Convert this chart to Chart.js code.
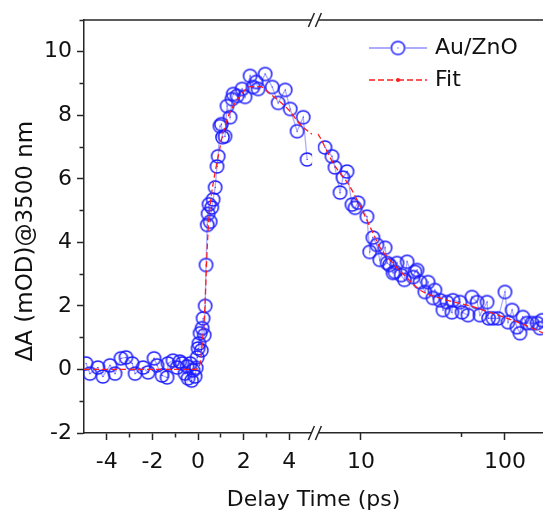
<!DOCTYPE html>
<html>
<head>
<meta charset="utf-8">
<title>Au/ZnO transient absorption at 3500 nm</title>
<script src="https://cdn.jsdelivr.net/npm/chart.js@4.4.1/dist/chart.umd.min.js"></script>
<style>
    html, body { margin: 0; padding: 0; background: #fff; overflow: hidden; }
    #wrap { width: 543px; height: 516px; }
</style>
</head>
<body>
<div id="wrap"><canvas id="chart" width="543" height="516"></canvas></div>
<script>
// ---- data ----
// measured points, linear part of the delay axis (ps)
const earlyDelay = [
    -4.91, -4.74, -4.39, -4.17, -3.86, -3.64, -3.38, -3.16, -2.89, -2.76,
    -2.41, -2.19, -1.93, -1.80, -1.58, -1.36, -1.32, -1.10, -0.92, -0.80,
    -0.70, -0.57, -0.48, -0.44, -0.35, -0.28, -0.22, -0.13, -0.08, -0.04,
     0.00,  0.04,  0.09,  0.14,  0.18,  0.22,  0.27,  0.31,  0.35,  0.40,
     0.44,  0.48,  0.53,  0.60,  0.66,  0.75,  0.83,  0.88,  0.96,  1.02,
     1.07,  1.18,  1.27,  1.40,  1.49,  1.54,  1.71,  1.93,  2.06,  2.28,
     2.41,  2.55,  2.63,  2.94,  3.25,  3.51,  3.82,  4.04,  4.34,  4.61,
     4.78
];
const earlyDA = [
     0.19, -0.13,  0.06, -0.22,  0.13, -0.13,  0.35,  0.38,  0.19, -0.13,
     0.06, -0.09,  0.35,  0.13, -0.19, -0.25,  0.19,  0.28,  0.06,  0.25,
     0.19, -0.13,  0.10, -0.28,  0.19, -0.35, -0.03, -0.22,  0.05,  0.38,
     0.66,  0.82,  1.14,  0.60,  1.30,  1.61,  1.08,  2.00,  3.29,  4.55,
     4.90,  5.20,  4.65,  5.10,  5.35,  5.73,  6.39,  6.71,  7.66,  7.72,
     7.31,  7.34,  8.29,  7.94,  8.51,  8.67,  8.61,  8.83,  8.58,  9.24,
     8.89,  9.05,  8.83,  9.30,  8.89,  8.39,  8.80,  8.20,  7.50,  7.94,
     6.61
];

// measured points, log part of the delay axis (ps)
const lateDelay = [
    5.62, 6.29, 6.60, 7.15, 7.50, 8.00, 8.66, 9.09, 9.53, 11.0,
    11.5, 12.1, 12.9, 13.5, 14.7, 15.2, 15.8, 16.7, 17.2, 17.8,
    19.0, 20.0, 20.9, 23.0, 23.7, 24.5, 25.7, 27.8, 29.2, 31.6,
    32.6, 35.4, 37.1, 39.5, 42.8, 43.5, 48.7, 50.3, 55.3, 59.0,
    64.0, 67.0, 75.0, 77.0, 82.6, 89.4, 100, 105, 112, 121,
    127, 133, 142, 154, 167, 175, 181
];
const lateDA = [
    6.99, 6.71, 6.36, 5.57, 6.04, 6.23, 5.19, 5.09, 5.25, 4.81,
    3.70, 4.15, 3.92, 3.45, 3.83, 3.35, 3.29, 3.04, 3.07, 3.35,
    2.97, 2.82, 3.39, 2.91, 3.07, 3.13, 2.75, 2.44, 2.75, 2.25,
    2.50, 2.18, 1.87, 2.12, 1.80, 2.18, 2.12, 1.80, 1.71, 2.28,
    2.12, 1.71, 2.12, 1.61, 1.61, 1.61, 2.44, 1.49, 1.87, 1.33,
    1.14, 1.65, 1.46, 1.46, 1.46, 1.30, 1.55
];

// fit curve
const fitEarlyDelay = [-5, -0.2, 0, 0.1, 0.2, 0.3, 0.37, 0.45, 0.55, 0.66, 0.88, 1.1, 1.4, 1.84, 2.28, 2.72, 3.16, 3.6, 4.0, 4.47, 5.0];
const fitEarlyDA    = [0, 0, 0.03, 0.25, 0.95, 1.95, 3.3, 4.5, 5.3, 5.85, 6.7, 7.45, 8.1, 8.6, 8.9, 8.9, 8.67, 8.42, 8.15, 7.72, 7.4];
const fitLateDelay  = [5.0, 5.2, 6.4, 8.4, 9.9, 12.1, 13.5, 15.2, 17.8, 20.9, 25.7, 38, 57, 88, 127, 184];
const fitLateDA     = [7.42, 7.3, 6.5, 5.75, 5.13, 4.3, 3.85, 3.55, 3.2, 2.88, 2.5, 2.2, 2.0, 1.72, 1.46, 1.15];

// ticks
const xLinTicks  = [-4, -3, -2, -1, 0, 1, 2, 3, 4];
const xLinLabels = [-4, -2, 0, 2, 4];
const xLogTicks  = [10, 50, 100];
const xLogLabels = [10, 100];
const yTicks     = [-2, -1, 0, 1, 2, 3, 4, 5, 6, 7, 8, 9, 10, 11];
const yLabels    = [-2, 0, 2, 4, 6, 8, 10];

// ---- axis ranges and styling ----
const BREAK_AT = 5;
const LIN_MIN = -5, LIN_MAX = 15.12;
const LOG_MIN = 0.1193, LOG_MAX = 183.6;
const Y_MIN = -2, Y_MAX = 11;

const AXIS_COLOR = '#262626';
const TEXT_COLOR = '#111';
const DOT_BLUE = '#1c1cff';
const LINK_BLUE = 'rgba(90, 90, 255, 0.5)';
const FIT_RED = '#ff1c1c';
const TICK_FONT = { family: 'DejaVu Sans', size: 22 };
const TITLE_FONT = { family: 'DejaVu Sans', size: 22 };
const YTITLE_FONT = { family: 'DejaVu Sans', size: 23 };
const MINOR_DASH_OUT = [4, 50];          // ticks drawn from the border outward
const MINOR_DASH_IN = [0, 2.5, 4, 50];   // ticks drawn towards the border

Chart.defaults.font.family = 'DejaVu Sans';

const toPoints = (xs, ys) => xs.map((x, i) => ({ x: x, y: ys[i] }));

// open circle with a dot in the middle
function makeMarker() {
    const c = document.createElement('canvas');
    c.width = 17;
    c.height = 17;
    const g = c.getContext('2d');
    g.strokeStyle = DOT_BLUE;
    g.lineWidth = 1.5;
    g.beginPath();
    g.arc(8.5, 8.5, 6.6, 0, Math.PI * 2);
    g.stroke();
    g.fillStyle = DOT_BLUE;
    g.fillRect(8, 8, 1, 1);
    return c;
}
const marker = makeMarker();

// both x axes share the bottom edge; clip each half to its side of the break,
// draw the break marks and the top frame line
const axisBreak = {
    id: 'axisBreak',
    breakPixels(chart) {
        return {
            lin: chart.scales.x.getPixelForValue(BREAK_AT),
            log: chart.scales.x2.getPixelForValue(BREAK_AT)
        };
    },
    afterLayout(chart) {
        // the linear axis was laid out with no height so it sits on the same
        // line as the log axis; give its labels room to draw
        const { x, x2 } = chart.scales;
        x.bottom = x2.bottom;
        x.height = x.bottom - x.top;
    },
    beforeDatasetDraw(chart, args) {
        const ds = chart.data.datasets[args.index];
        const { ctx, chartArea } = chart;
        const cut = this.breakPixels(chart);
        ctx.save();
        ctx.beginPath();
        if (ds.xAxisID === 'x') {
            ctx.rect(chartArea.left, 0, cut.lin - chartArea.left, chart.height);
        } else {
            ctx.rect(cut.log, 0, chart.width - cut.log, chart.height);
        }
        ctx.clip();
    },
    afterDatasetDraw(chart) {
        chart.ctx.restore();
    },
    afterDraw(chart) {
        const { ctx, chartArea } = chart;
        const cut = this.breakPixels(chart);
        const cx = (cut.lin + cut.log) / 2;
        const half = 3.5;

        ctx.save();
        ctx.strokeStyle = AXIS_COLOR;
        ctx.lineWidth = 1.5;

        // top frame line
        ctx.beginPath();
        ctx.moveTo(chartArea.left, chartArea.top);
        ctx.lineTo(cx - half, chartArea.top);
        ctx.moveTo(cx + half, chartArea.top);
        ctx.lineTo(chartArea.right, chartArea.top);
        ctx.stroke();

        // gap in the bottom axis
        ctx.fillStyle = '#fff';
        ctx.fillRect(cx - half, chartArea.bottom - 2, half * 2, 4);

        // the // marks
        ctx.beginPath();
        [chartArea.top, chartArea.bottom].forEach(y => {
            [-half, half].forEach(d => {
                ctx.moveTo(cx + d - 3, y + 7);
                ctx.lineTo(cx + d + 3, y - 7);
            });
        });
        ctx.stroke();
        ctx.restore();
    }
};

// legend in the upper right corner: line sample with marker, then the label
const cornerLegend = {
    id: 'cornerLegend',
    afterDraw(chart, args, opts) {
        const { ctx } = chart;
        const items = chart.data.datasets.filter(ds => ds.inLegend);
        ctx.save();
        items.forEach((ds, i) => {
            const y = opts.top + i * opts.rowGap;
            const x0 = opts.left;
            const x1 = opts.left + opts.sampleWidth;
            const mid = (x0 + x1) / 2;
            const gap = ds.pointRadius > 0 ? 7.5 : 0;

            ctx.strokeStyle = ds.borderColor;
            ctx.lineWidth = ds.legendLineWidth || ds.borderWidth;
            ctx.setLineDash(ds.borderDash || []);
            ctx.beginPath();
            ctx.moveTo(x0, y);
            ctx.lineTo(mid - gap, y);
            ctx.moveTo(mid + gap, y);
            ctx.lineTo(x1, y);
            ctx.stroke();
            ctx.setLineDash([]);

            if (ds.pointRadius > 0) {
                ctx.drawImage(marker, mid - marker.width / 2, y - marker.height / 2);
            } else {
                ctx.fillStyle = ds.borderColor;
                ctx.beginPath();
                ctx.arc(mid, y, 2, 0, Math.PI * 2);
                ctx.fill();
            }

            ctx.fillStyle = TEXT_COLOR;
            ctx.font = `${opts.fontSize}px "DejaVu Sans"`;
            ctx.textBaseline = 'middle';
            ctx.textAlign = 'left';
            ctx.fillText(ds.label, x1 + opts.textGap, y);
        });
        ctx.restore();
    }
};

const tickGrid = (isMinor, dash) => ({
    drawOnChartArea: false,
    drawTicks: true,
    tickLength: 7,
    tickWidth: 1.5,
    tickColor: AXIS_COLOR,
    tickBorderDash: c => (c.tick && isMinor(c.tick.value)) ? dash : []
});

// x axes: no side padding for overhanging labels, the plot runs to the edge
const fitXAxis = height => s => {
    s.height = height;
    s.paddingLeft = 0;
    s.paddingRight = 0;
};

const dataStyle = {
    showLine: true,
    borderColor: LINK_BLUE,
    borderWidth: 1.3,
    legendLineWidth: 1.8,
    pointStyle: marker,
    pointRadius: 7,
    order: 1
};
const fitStyle = {
    showLine: true,
    borderColor: FIT_RED,
    borderWidth: 1.3,
    borderDash: [6, 3],
    pointRadius: 0,
    cubicInterpolationMode: 'monotone',
    order: 0
};

new Chart(document.getElementById('chart'), {
    type: 'scatter',
    data: {
        datasets: [
            { ...dataStyle, label: 'Au/ZnO', xAxisID: 'x', data: toPoints(earlyDelay, earlyDA), inLegend: true },
            { ...dataStyle, label: 'Au/ZnO', xAxisID: 'x2', data: toPoints(lateDelay, lateDA) },
            { ...fitStyle, label: 'Fit', xAxisID: 'x', data: toPoints(fitEarlyDelay, fitEarlyDA), inLegend: true },
            { ...fitStyle, label: 'Fit', xAxisID: 'x2', data: toPoints(fitLateDelay, fitLateDA) }
        ]
    },
    options: {
        responsive: false,
        animation: false,
        events: [],
        layout: {
            autoPadding: false,
            padding: { top: 20, left: 0, right: 0, bottom: 0 }
        },
        plugins: {
            legend: { display: false },
            tooltip: { enabled: false },
            cornerLegend: { left: 369, top: 48, rowGap: 32, sampleWidth: 58, textGap: 8, fontSize: 22 }
        },
        scales: {
            x: {
                type: 'linear',
                position: 'bottom',
                min: LIN_MIN,
                max: LIN_MAX,
                bounds: 'data',
                afterBuildTicks: s => { s.ticks = xLinTicks.map(v => ({ value: v })); },
                afterFit: fitXAxis(0),
                ticks: {
                    autoSkip: false,
                    maxRotation: 0,
                    padding: 9,
                    font: TICK_FONT,
                    color: TEXT_COLOR,
                    callback: v => xLinLabels.includes(v) ? String(v) : ''
                },
                grid: tickGrid(v => !xLinLabels.includes(v), MINOR_DASH_OUT),
                border: { color: AXIS_COLOR, width: 1.5 }
            },
            x2: {
                type: 'logarithmic',
                position: 'bottom',
                min: LOG_MIN,
                max: LOG_MAX,
                bounds: 'data',
                afterBuildTicks: s => { s.ticks = xLogTicks.map(v => ({ value: v })); },
                afterFit: fitXAxis(83),
                ticks: {
                    autoSkip: false,
                    maxRotation: 0,
                    padding: 9,
                    font: TICK_FONT,
                    color: TEXT_COLOR,
                    callback: v => xLogLabels.includes(v) ? String(v) : ''
                },
                grid: tickGrid(v => !xLogLabels.includes(v), MINOR_DASH_OUT),
                border: { display: false },
                title: {
                    display: true,
                    text: 'Delay Time (ps)',
                    font: TITLE_FONT,
                    color: TEXT_COLOR,
                    padding: { top: 0, bottom: 3 }
                }
            },
            y: {
                type: 'linear',
                position: 'left',
                min: Y_MIN,
                max: Y_MAX,
                bounds: 'data',
                afterBuildTicks: s => { s.ticks = yTicks.map(v => ({ value: v })); },
                afterFit: s => { s.width = 84; },
                ticks: {
                    autoSkip: false,
                    padding: 5,
                    font: TICK_FONT,
                    color: TEXT_COLOR,
                    callback: v => yLabels.includes(v) ? String(v) : ''
                },
                grid: tickGrid(v => !yLabels.includes(v), MINOR_DASH_IN),
                border: { color: AXIS_COLOR, width: 1.5 },
                title: {
                    display: true,
                    // trailing spaces nudge the centred title down, as in the original
                    text: 'ΔA (mOD)@3500 nm    ',
                    font: YTITLE_FONT,
                    color: TEXT_COLOR,
                    padding: { top: 12, bottom: 0 }
                }
            }
        }
    },
    plugins: [axisBreak, cornerLegend]
});
</script>
</body>
</html>
